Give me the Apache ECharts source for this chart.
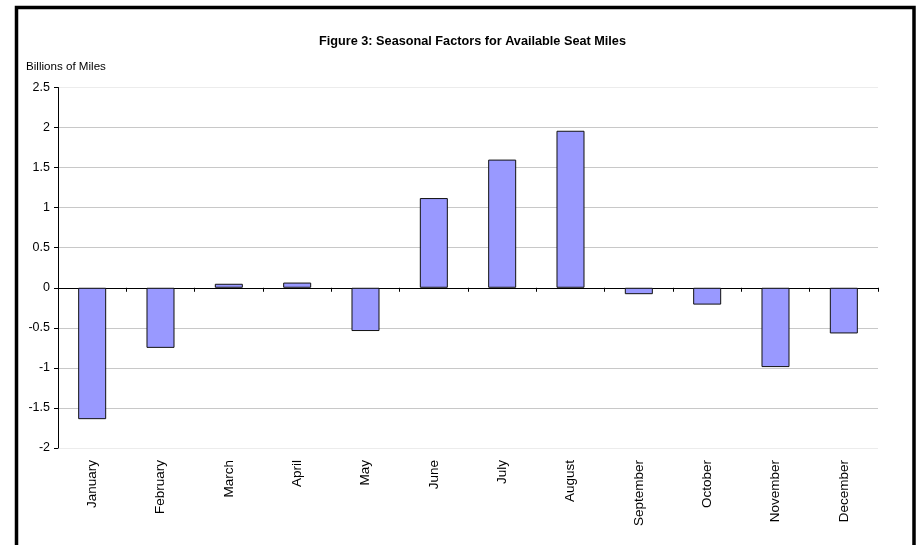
<!DOCTYPE html>
<html>
<head>
<meta charset="utf-8">
<script src="https://cdn.jsdelivr.net/npm/echarts@6/dist/echarts.min.js"></script>
<style>
html,body{margin:0;padding:0;background:#fff;}
#chart{width:919px;height:545px;}
</style>
</head>
<body>
<div id="chart"></div>
<script>
var categories = ['January','February','March','April','May','June','July','August','September','October','November','December'];
var seasonalFactors = [-1.64, -0.75, 0.05, 0.065, -0.54, 1.12, 1.6, 1.96, -0.08, -0.21, -0.99, -0.57];
var titleText = 'Figure 3: Seasonal Factors for Available Seat Miles';
var yAxisName = 'Billions of Miles';
var yMin = -2, yMax = 2.5, yStep = 0.5;

var gridColors = ['#ececec','#c8c8c8','#c8c8c8','#c8c8c8','#c8c8c8','#c8c8c8','#c8c8c8','#c8c8c8','#c8c8c8','#ececec'];

var chart = echarts.init(document.getElementById('chart'), null, {renderer:'canvas'});
chart.setOption({
  animation:false,
  backgroundColor:'#fff',
  title:{
    text:titleText,
    left:467.5, top:30, textAlign:'center',
    textStyle:{fontFamily:'Liberation Sans, Arial, sans-serif', fontSize:12.7, fontWeight:'bold', color:'#000'}
  },
  graphic:[
    {type:'rect', shape:{x:16.5, y:7.5, width:897.5, height:600}, style:{fill:null, stroke:'#000', lineWidth:3.5}, silent:true, z:100},
    {type:'text', left:26, top:61, style:{text:yAxisName, fill:'#000', font:'11.6px "Liberation Sans", Arial, sans-serif'}}
  ],
  grid:{left:58, right:41, top:87.5, bottom:97},
  xAxis:[
    {
      type:'category', data:categories, position:'bottom',
      axisLine:{show:false, onZero:false}, axisTick:{show:false},
      axisLabel:{rotate:90, margin:12, color:'#000', fontSize:13.5, fontFamily:'Liberation Sans, Arial, sans-serif', interval:0},
      splitLine:{show:false}
    },
    {
      type:'category', data:categories, position:'top',
      axisLine:{show:true, onZero:true, lineStyle:{color:'#000', width:1}},
      axisTick:{show:true, inside:true, length:4, alignWithLabel:false, interval:0, lineStyle:{color:'#000'}},
      axisLabel:{show:false}, splitLine:{show:false}
    }
  ],
  yAxis:{
    type:'value', min:yMin, max:yMax, interval:yStep,
    axisLine:{show:true, lineStyle:{color:'#000', width:1}},
    axisTick:{show:true, length:4, lineStyle:{color:'#000'}},
    axisLabel:{color:'#000', fontSize:12.5, margin:8, fontFamily:'Liberation Sans, Arial, sans-serif'},
    splitLine:{show:true, lineStyle:{color:gridColors, width:1}}
  },
  series:[{
    type:'bar', data:seasonalFactors, xAxisIndex:0, barWidth:'41%',
    itemStyle:{color:'#9999ff', borderColor:'#111', borderWidth:1}
  }]
});
</script>
</body>
</html>
